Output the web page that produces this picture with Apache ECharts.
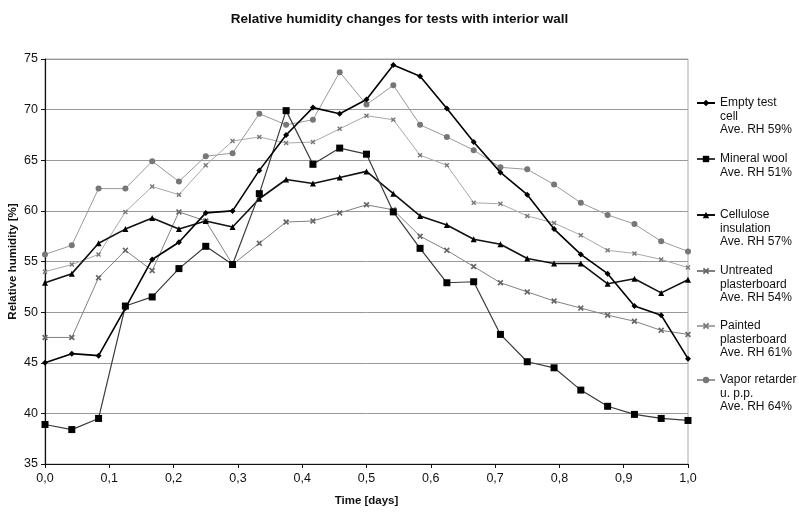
<!DOCTYPE html>
<html>
<head>
<meta charset="utf-8">
<script src="https://cdn.jsdelivr.net/npm/echarts@6/dist/echarts.min.js"></script>
<style>html,body{margin:0;padding:0;background:#fff}#c{width:799px;height:512px}</style>
</head>
<body>
<div id="c"></div>
<script>
const time = [0, 0.0417, 0.0833, 0.125, 0.1667, 0.2083, 0.25, 0.2917, 0.3333, 0.375, 0.4167, 0.4583, 0.5, 0.5417, 0.5833, 0.625, 0.6667, 0.7083, 0.75, 0.7917, 0.8333, 0.875, 0.9167, 0.9583, 1.0];
const emptyCell = [45.0, 45.9, 45.7, 50.4, 55.2, 56.9, 59.8, 60.0, 64.0, 67.5, 70.2, 69.6, 71.0, 74.4, 73.3, 70.1, 66.8, 63.8, 61.6, 58.2, 55.7, 53.8, 50.6, 49.7, 45.4];
const mineralWool = [38.9, 38.4, 39.5, 50.6, 51.5, 54.3, 56.5, 54.7, 61.7, 69.9, 64.6, 66.2, 65.6, 59.9, 56.3, 52.9, 53.0, 47.8, 45.1, 44.5, 42.3, 40.7, 39.9, 39.5, 39.3];
const cellulose = [52.9, 53.8, 56.8, 58.2, 59.3, 58.2, 59.0, 58.4, 61.2, 63.1, 62.7, 63.3, 63.9, 61.7, 59.5, 58.6, 57.2, 56.7, 55.3, 54.8, 54.8, 52.8, 53.3, 51.9, 53.2];
const untreated = [47.5, 47.5, 53.4, 56.1, 54.1, 59.9, 59.0, 54.7, 56.8, 58.9, 59.0, 59.8, 60.6, 60.1, 57.5, 56.1, 54.5, 52.9, 52.0, 51.1, 50.4, 49.7, 49.1, 48.2, 47.8];
const painted = [54.0, 54.7, 55.7, 59.9, 62.4, 61.6, 64.5, 66.9, 67.3, 66.7, 66.8, 68.1, 69.4, 69.0, 65.5, 64.5, 60.8, 60.7, 59.5, 58.8, 57.6, 56.1, 55.8, 55.2, 54.4];
const vapor = [55.7, 56.6, 62.2, 62.2, 64.9, 62.9, 65.4, 65.7, 69.6, 68.5, 69.0, 73.7, 70.5, 72.4, 68.5, 67.3, 66.0, 64.3, 64.1, 62.6, 60.8, 59.6, 58.7, 57.0, 56.0];
const seriesNames = ['Empty test cell', 'Mineral wool', 'Cellulose insulation', 'Untreated plasterboard', 'Painted plasterboard', 'Vapor retarder u. p.p.'];
const legendLines = [
  ['Empty test', 'cell', 'Ave. RH 59%'],
  ['Mineral wool', 'Ave. RH 51%'],
  ['Cellulose', 'insulation', 'Ave. RH 57%'],
  ['Untreated', 'plasterboard', 'Ave. RH 54%'],
  ['Painted', 'plasterboard', 'Ave. RH 61%'],
  ['Vapor retarder', 'u. p.p.', 'Ave. RH 64%']
];
const xTicks = ['0,0','0,1','0,2','0,3','0,4','0,5','0,6','0,7','0,8','0,9','1,0'];

const values = [emptyCell, mineralWool, cellulose, untreated, painted, vapor];
const pair = arr => arr.map((v, i) => [time[i], v]);
const X = 'path://M2,0L5,3L8,0L10,2L7,5L10,8L8,10L5,7L2,10L0,8L3,5L0,2Z';
const styles = [
  {line: '#000', lw: 1.6, sym: 'diamond', ss: 6, mc: '#000'},
  {line: '#3a3a3a', lw: 1.2, sym: 'rect', ss: 7, mc: '#000'},
  {line: '#111', lw: 1.6, sym: 'triangle', ss: 6, mc: '#000'},
  {line: '#808080', lw: 1, sym: X, ss: 6, mc: '#666'},
  {line: '#a8a8a8', lw: 1, sym: X, ss: 5, mc: '#777'},
  {line: '#999', lw: 1, sym: 'circle', ss: 6, mc: '#777'}
];
const LH = 13.5;
const iconY = [103, 159, 215, 271, 326, 380];

const series = values.map((arr, k) => ({
  name: seriesNames[k], type: 'line', data: pair(arr),
  symbol: styles[k].sym, symbolSize: styles[k].ss, showSymbol: true,
  lineStyle: {color: styles[k].line, width: styles[k].lw},
  itemStyle: {color: styles[k].mc},
  animation: false, z: 10 - k
}));

const legends = seriesNames.map((n, k) => {
  const lines = legendLines[k];
  const pad = lines.length - 1;
  const total = lines.length + pad;
  return {
    data: [n], orient: 'vertical', left: 696, top: iconY[k] - total * LH / 2,
    padding: 0, itemWidth: 18, itemHeight: 8, selectedMode: false,
    textStyle: {fontFamily: 'Liberation Sans, Arial, sans-serif', fontSize: 12, color: '#111', lineHeight: LH},
    formatter: () => '\n'.repeat(pad) + lines.join('\n')
  };
});

const chart = echarts.init(document.getElementById('c'), null, {renderer: 'canvas'});
chart.setOption({
  animation: false,
  title: {
    text: 'Relative humidity changes for tests with interior wall',
    left: 'center', top: 7,
    textStyle: {fontFamily: 'Liberation Sans, Arial, sans-serif', fontSize: 13.5, fontWeight: 'bold', color: '#111'}
  },
  legend: legends,
  grid: {left: 45, right: 111, top: 59, bottom: 48, containLabel: false, outerBoundsMode: 'none',
    show: true, borderColor: '#aaa', borderWidth: 1},
  xAxis: {
    type: 'value', min: 0, max: 1, interval: 0.1,
    name: 'Time [days]', nameLocation: 'middle', nameGap: 31, nameMoveOverlap: false,
    nameTextStyle: {fontFamily: 'Liberation Sans, Arial, sans-serif', fontSize: 11.5, fontWeight: 'bold', color: '#111'},
    axisLine: {lineStyle: {color: '#111', width: 1.2}},
    axisTick: {show: true, length: 4, lineStyle: {color: '#111'}},
    axisLabel: {fontFamily: 'Liberation Sans, Arial, sans-serif', fontSize: 12.5, color: '#111', margin: 8,
      formatter: v => xTicks[Math.round(v * 10)]},
    splitLine: {show: false}
  },
  yAxis: {
    type: 'value', min: 35, max: 75, interval: 5,
    name: 'Relative humidity [%]', nameLocation: 'middle', nameGap: 26, nameMoveOverlap: false,
    nameTextStyle: {fontFamily: 'Liberation Sans, Arial, sans-serif', fontSize: 11.5, fontWeight: 'bold', color: '#111'},
    axisLine: {show: true, lineStyle: {color: '#111', width: 1.2}},
    axisTick: {show: true, length: 4, lineStyle: {color: '#111'}},
    axisLabel: {fontFamily: 'Liberation Sans, Arial, sans-serif', fontSize: 12.5, color: '#111', margin: 7},
    splitLine: {show: true, lineStyle: {color: '#999', width: 1}}
  },
  series: series
});
</script>
</body>
</html>
